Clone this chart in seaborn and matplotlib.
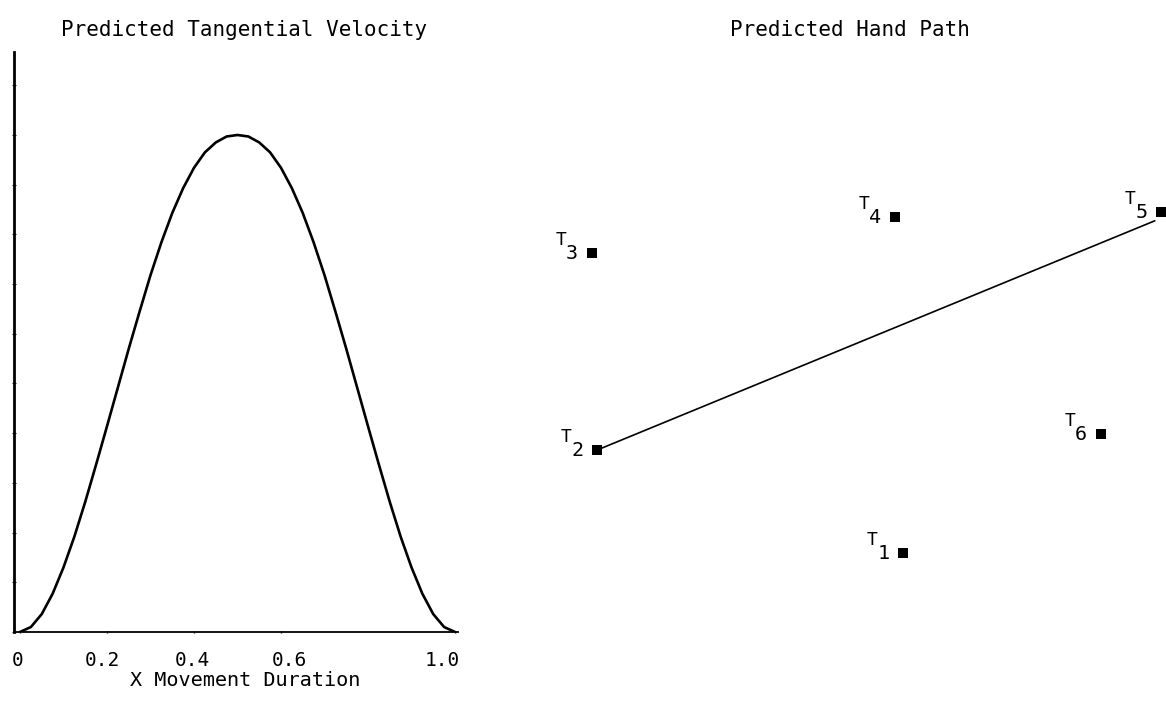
import matplotlib
matplotlib.use("Agg")
import matplotlib.pyplot as plt
from matplotlib.transforms import ScaledTranslation
import seaborn as sns
import pandas as pd

# ---- data ----
time_frac = [0.0, 0.025, 0.05, 0.075, 0.1, 0.125, 0.15, 0.175, 0.2, 0.225, 0.25,
             0.275, 0.3, 0.325, 0.35, 0.375, 0.4, 0.425, 0.45, 0.475, 0.5,
             0.525, 0.55, 0.575, 0.6, 0.625, 0.65, 0.675, 0.7, 0.725, 0.75,
             0.775, 0.8, 0.825, 0.85, 0.875, 0.9, 0.925, 0.95, 0.975, 1.0]
velocity = [0.0, 0.010, 0.036, 0.077, 0.130, 0.192, 0.262, 0.337, 0.414, 0.492, 0.570,
            0.645, 0.718, 0.784, 0.843, 0.893, 0.934, 0.965, 0.985, 0.997, 1.0,
            0.997, 0.985, 0.965, 0.934, 0.893, 0.843, 0.784, 0.718, 0.645, 0.570,
            0.492, 0.414, 0.337, 0.262, 0.192, 0.130, 0.077, 0.036, 0.010, 0.0]
x_ticks = [0.0, 0.2, 0.4, 0.6, 1.0]
x_tick_labels = ["0", "0.2", "0.4", "0.6", "1.0"]

target_names = ["1", "2", "3", "4", "5", "6"]
target_x = [9.33, 1.68, 1.55, 9.13, 15.78, 14.28]
target_y = [1.98, 4.55, 9.48, 10.38, 10.50, 4.95]

path_x = [1.68, 15.62]
path_y = [4.55, 10.28]

# ---- style ----
sns.set_style("white")
plt.rcParams["font.family"] = ["DejaVu Sans Mono", "DejaVu Sans"]

W, H = 1166, 712
fig = plt.figure(figsize=(W / 100, H / 100), dpi=100)

# ---- left panel: tangential velocity ----
ax1 = fig.add_axes([14 / W, 1 - 632 / H, 444 / W, 580 / H])
vel_df = pd.DataFrame({"t": time_frac, "v": velocity})
sns.lineplot(data=vel_df, x="t", y="v", ax=ax1, color="black", linewidth=1.9,
             sort=False, estimator=None)
ax1.set_xlim(-0.0138, 1.0069)
ax1.set_ylim(0, 1.167)
for side in ["top", "right"]:
    ax1.spines[side].set_visible(False)
ax1.spines["left"].set_linewidth(2.0)
ax1.spines["bottom"].set_linewidth(1.3)
ax1.spines["left"].set_color("black")
ax1.spines["bottom"].set_color("black")
ax1.set_xticks(x_ticks)
ax1.set_xticklabels(x_tick_labels)
ax1.set_yticks([i * 0.1 for i in range(12)])
ax1.set_yticklabels([])
ax1.tick_params(axis="x", length=2, width=1, direction="inout", pad=13,
                labelsize=14, colors="black", bottom=True)
ax1.tick_params(axis="y", length=3, width=0.8, direction="inout", left=True)
# hand-placed typewriter labels sit a little off their tick marks
label_shift_px = {"0": -2, "0.2": -5, "0.4": -2, "0.6": 8, "1.0": -13}
for lab in ax1.get_xticklabels():
    dx = label_shift_px.get(lab.get_text(), 0)
    lab.set_transform(lab.get_transform() + ScaledTranslation(dx / 100, 0, fig.dpi_scale_trans))
ax1.set_xlabel("X Movement Duration", fontsize=14.5, color="black")
ax1.xaxis.set_label_coords((245 - 14) / 444, (632 - 671) / 580)
ax1.set_ylabel("")

fig.text(244 / W, 1 - 30 / H, "Predicted Tangential Velocity", ha="center",
         va="center", fontsize=15, color="black")

# ---- right panel: hand path ----
ax2 = fig.add_axes([530 / W, 1 - 632 / H, 636 / W, 580 / H])
ax2.set_xlim(0, 15.9)
ax2.set_ylim(0, 14.5)
ax2.axis("off")

path_df = pd.DataFrame({"x": path_x, "y": path_y})
sns.lineplot(data=path_df, x="x", y="y", ax=ax2, color="black", linewidth=1.2,
             sort=False, estimator=None)
tgt_df = pd.DataFrame({"name": target_names, "x": target_x, "y": target_y})
sns.scatterplot(data=tgt_df, x="x", y="y", ax=ax2, marker="s", s=55,
                color="black", edgecolor="black", linewidth=0, clip_on=False)
for nm, x, y in zip(target_names, target_x, target_y):
    ax2.annotate("T", (x, y), xytext=(-31, 13), textcoords="offset pixels",
                 ha="center", va="center", fontsize=13, color="black")
    ax2.annotate(nm, (x, y), xytext=(-20, -1), textcoords="offset pixels",
                 ha="center", va="center", fontsize=14.5, color="black")
ax2.set_xlabel("")
ax2.set_ylabel("")

fig.text(850 / W, 1 - 30 / H, "Predicted Hand Path", ha="center",
         va="center", fontsize=15, color="black")

fig.savefig("out.png", dpi=100, facecolor="white")
